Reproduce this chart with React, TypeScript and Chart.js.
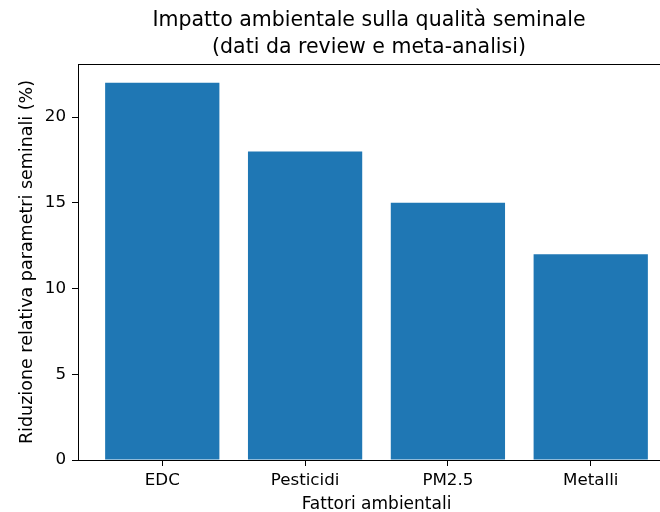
import React, { useEffect, useRef } from "react";
import { Chart, registerables } from "chart.js";

Chart.register(...registerables);

const categories = ["EDC", "Pesticidi", "PM2.5", "Metalli"];
const values = [22, 18, 15, 12];
const yTicks = [0, 5, 10, 15, 20];
const titleLines = ["Impatto ambientale sulla qualità seminale", "(dati da review e meta-analisi)"];
const xLabel = "Fattori ambientali";
const yLabel = "Riduzione relativa parametri seminali (%)";

const FONT = "'DejaVu Sans', sans-serif";

export default function App() {
  const ref = useRef<HTMLCanvasElement | null>(null);

  useEffect(() => {
    const canvas = ref.current;
    if (!canvas) return;

    const framePlugin = {
      id: "frame",
      afterDraw(chart: any) {
        const { ctx, chartArea } = chart;
        ctx.save();
        ctx.strokeStyle = "#000";
        ctx.lineWidth = 1;
        ctx.strokeRect(
          Math.round(chartArea.left) + 0.5,
          Math.round(chartArea.top) + 0.5,
          Math.round(chartArea.right - chartArea.left),
          Math.round(chartArea.bottom - chartArea.top)
        );
        ctx.fillStyle = "#000";
        ctx.font = `20.5px ${FONT}`;
        ctx.textAlign = "center";
        ctx.textBaseline = "alphabetic";
        ctx.fillText(titleLines[0], 369, 26);
        ctx.fillText(titleLines[1], 369, 53);
        ctx.restore();
      },
    };

    const chart = new Chart(canvas, {
      type: "bar",
      data: {
        datasets: [
          {
            data: values.map((v, i) => ({ x: i, y: v })),
            backgroundColor: "#1f77b4",
            borderWidth: 0,
            categoryPercentage: 1,
            barPercentage: 0.8,
          },
        ],
      },
      options: {
        responsive: false,
        animation: false,
        layout: { padding: { top: 64, right: 15, left: 0, bottom: 0 } },
        plugins: {
          legend: { display: false },
          title: { display: false },
          tooltip: { enabled: false },
        },
        scales: {
          x: {
            type: "linear",
            min: -0.59,
            max: 3.59,
            offset: false,
            afterBuildTicks: (scale: any) => {
              scale.ticks = categories.map((_, i) => ({ value: i }));
            },
            afterFit: (scale: any) => {
              scale.height = 55;
            },
            grid: {
              display: true,
              offset: false,
              drawOnChartArea: false,
              drawTicks: true,
              tickLength: 6,
              tickColor: "#000",
            },
            border: { display: true, color: "#000", width: 1 },
            ticks: {
              autoSkip: false,
              maxRotation: 0,
              color: "#000",
              padding: 5,
              font: { family: FONT, size: 16.7 },
              callback: (v: any) => categories[Math.round(Number(v))] ?? "",
            },
            title: {
              display: true,
              text: xLabel,
              color: "#000",
              font: { family: FONT, size: 17 },
              padding: { top: 0, bottom: 0 },
            },
          },
          y: {
            min: 0,
            max: 23.1,
            afterBuildTicks: (scale: any) => {
              scale.ticks = yTicks.map((v) => ({ value: v }));
            },
            afterFit: (scale: any) => {
              scale.width = 78;
            },
            grid: {
              display: true,
              drawOnChartArea: false,
              drawTicks: true,
              tickLength: 6,
              tickColor: "#000",
            },
            border: { display: true, color: "#000", width: 1 },
            ticks: {
              color: "#000",
              padding: 6,
              font: { family: FONT, size: 16.7 },
            },
            title: {
              display: true,
              text: yLabel,
              color: "#000",
              font: { family: FONT, size: 17.5 },
              padding: { top: 16.5, bottom: 0 },
            },
          },
        },
      },
      plugins: [framePlugin],
    });

    return () => chart.destroy();
  }, []);

  return (
    <div
      style={{
        position: "fixed",
        left: 0,
        top: 0,
        width: 660,
        height: 512,
        overflow: "hidden",
        background: "#fff",
      }}
    >
      <canvas ref={ref} width={690} height={515} style={{ width: 690, height: 515, display: "block" }} />
    </div>
  );
}
